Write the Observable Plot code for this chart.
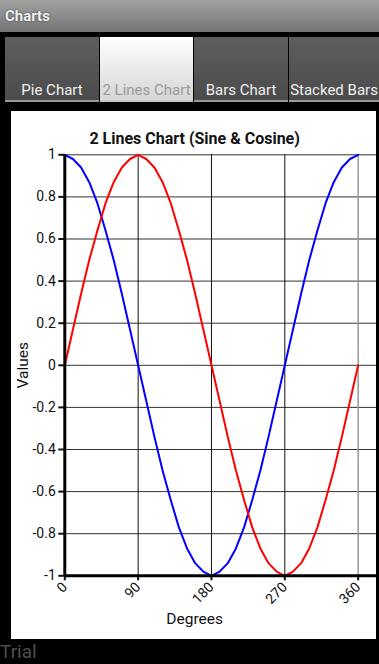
<!DOCTYPE html>
<html>
<head>
<meta charset="utf-8">
<script src="https://cdn.jsdelivr.net/npm/d3@7"></script>
<script src="https://cdn.jsdelivr.net/npm/@observablehq/plot@0.6"></script>
<style>
  html, body { margin: 0; padding: 0; background: #000; }
  body { width: 379px; height: 664px; position: relative; overflow: hidden; font-family: Roboto, "Noto Sans", sans-serif; }
  #bar { position: absolute; left: 0; top: 0; width: 379px; height: 32px; background: linear-gradient(#a2a2a2, #747474); }
  #bar span { position: absolute; left: 5px; top: 7px; font-size: 15px; font-weight: bold; color: #f2f2f2; text-shadow: 0 0 2px #333; }
  .tab { position: absolute; top: 37px; height: 65px; background: linear-gradient(#5e5e5e, #4b4b4b); border-bottom: 2px solid #9a9a9a; color: #f0f0f0; font-size: 15px; text-align: center; box-sizing: border-box; padding-top: 44px; white-space: nowrap; overflow: hidden; }
  .tab.sel { background: linear-gradient(#ffffff, #d6d6d6); color: #9a9a9a; border-bottom: 2px solid #c8c8c8; }
  #panel { position: absolute; left: 11px; top: 111px; width: 365px; height: 528px; background: #fff; }
  #panel svg { position: absolute; left: 0; top: 0; }
  #trial { position: absolute; left: 0px; top: 642px; font-size: 19px; line-height: 19px; color: #4e4e4e; }
</style>
</head>
<body>
<div id="bar"><span>Charts</span></div>
<div id="tabs"></div>
<div id="panel"></div>
<div id="trial">Trial</div>
<script>
const tabNames = ["Pie Chart", "2 Lines Chart", "Bars Chart", "Stacked Bars"];
const selectedTab = "2 Lines Chart";
const chartTitle = "2 Lines Chart (Sine & Cosine)";
const xLabel = "Degrees";
const yLabel = "Values";
const degrees = [0,10,20,30,40,50,60,70,80,90,100,110,120,130,140,150,160,170,180,190,200,210,220,230,240,250,260,270,280,290,300,310,320,330,340,350,360];
const sineValues = [0,0.17,0.34,0.5,0.64,0.77,0.87,0.94,0.98,1,0.98,0.94,0.87,0.77,0.64,0.5,0.34,0.17,0,-0.17,-0.34,-0.5,-0.64,-0.77,-0.87,-0.94,-0.98,-1,-0.98,-0.94,-0.87,-0.77,-0.64,-0.5,-0.34,-0.17,0];
const cosineValues = [1,0.98,0.94,0.87,0.77,0.64,0.5,0.34,0.17,0,-0.17,-0.34,-0.5,-0.64,-0.77,-0.87,-0.94,-0.98,-1,-0.98,-0.94,-0.87,-0.77,-0.64,-0.5,-0.34,-0.17,0,0.17,0.34,0.5,0.64,0.77,0.87,0.94,0.98,1];
const xTicks = [0,90,180,270,360];
const yTicks = [-1,-0.8,-0.6,-0.4,-0.2,0,0.2,0.4,0.6,0.8,1];

// tabs
const tabLefts = [5, 100, 194, 289];
const tabWidths = [94, 93, 94, 90];
const tabsDiv = document.getElementById("tabs");
tabNames.forEach((n, i) => {
  const d = document.createElement("div");
  d.className = "tab" + (n === selectedTab ? " sel" : "");
  d.style.left = tabLefts[i] + "px";
  d.style.width = tabWidths[i] + "px";
  d.textContent = n;
  tabsDiv.appendChild(d);
});

const sine = degrees.map((d, i) => ({deg: d, value: sineValues[i]}));
const cosine = degrees.map((d, i) => ({deg: d, value: cosineValues[i]}));

const font = "Roboto, 'Noto Sans', sans-serif";
const chart = Plot.plot({
  width: 365,
  height: 528,
  marginLeft: 53.3,
  marginRight: 0,
  marginTop: 43.3,
  marginBottom: 63.7,
  style: {background: "transparent", fontFamily: font, fontSize: "14px", color: "#111"},
  x: {domain: [0, 382.5], ticks: xTicks},
  y: {domain: [-1, 1], ticks: yTicks},
  marks: [
    Plot.gridY(yTicks, {stroke: "#333", strokeOpacity: 1, strokeWidth: 1}),
    Plot.ruleX([90, 180, 270], {stroke: "#111", strokeWidth: 1}),
    Plot.ruleX([360], {stroke: "#999", strokeWidth: 1.5}),
    Plot.axisY(yTicks, {tickSize: 6, tickPadding: 3, strokeWidth: 2, label: null, fontSize: 14, tickFormat: d => String(d)}),
    Plot.axisX(xTicks, {tickSize: 5, tickPadding: 4, strokeWidth: 2, tickRotate: -45, label: null, fontSize: 14, tickFormat: d => String(d)}),
    Plot.line(cosine, {x: "deg", y: "value", stroke: "#0000ff", strokeWidth: 2}),
    Plot.line(sine, {x: "deg", y: "value", stroke: "#ff0000", strokeWidth: 2}),
    Plot.ruleX([0], {stroke: "#000", strokeWidth: 3}),
    Plot.ruleY([-1], {stroke: "#000", strokeWidth: 3}),
    Plot.text([chartTitle], {frameAnchor: "top", dx: -26, dy: -22, fontWeight: "bold", fontSize: 16, fill: "#111"}),
    Plot.text([xLabel], {frameAnchor: "bottom", dx: -26, dy: 48, fontSize: 15.5, fill: "#111"}),
    Plot.text([yLabel], {frameAnchor: "left", textAnchor: "middle", dx: -42, dy: 0, rotate: -90, fontSize: 15.5, fill: "#111"})
  ]
});
document.getElementById("panel").appendChild(chart);
</script>
</body>
</html>
